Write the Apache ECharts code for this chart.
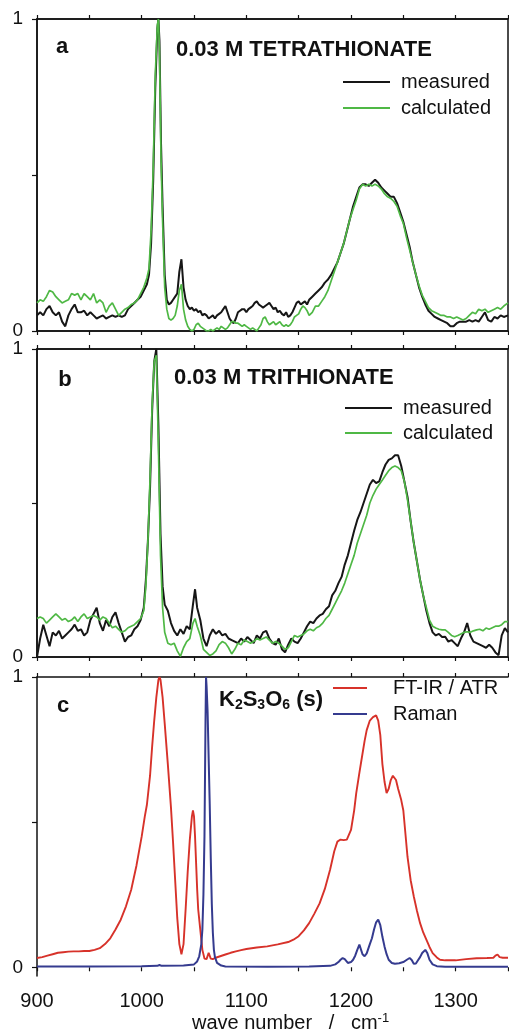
<!DOCTYPE html>
<html>
<head>
<meta charset="utf-8">
<script src="https://cdn.jsdelivr.net/npm/echarts@6/dist/echarts.min.js"></script>
<style>
html, body { margin: 0; padding: 0; background: #fff; }
#box { width: 509px; height: 1032px; }
</style>
</head>
<body>
<div id="box"></div>
<script>
// x ticks / labels shared by all three panels
var tickValues = [900, 950, 1000, 1050, 1100, 1150, 1200, 1250, 1300, 1350];
var labelValues = [900, 1000, 1100, 1200, 1300];

// panel a : 0.03 M tetrathionate
var aWave = [900,903,906,909,912,915,918,921,924,927,930,933,936,939,942,945,948,951,954,957,960,963,966,969,972,975,978,981,984,987,990,993,996,999,1002,1005,1007,1009,1011,1013,1015,1016,1017,1018.5,1020,1022,1024,1026,1028,1030,1032,1034,1036,1038,1040,1042,1044,1046,1048,1050,1052,1054,1056,1058,1060,1062,1064,1066,1068,1070,1072,1074,1076,1078,1080,1082,1084,1086,1088,1090,1092,1094,1096,1098,1100,1102,1104,1106,1108,1110,1112,1114,1116,1118,1120,1122,1124,1126,1128,1130,1132,1134,1136,1138,1140,1142,1144,1146,1148,1150,1152,1154,1156,1158,1160,1163,1166,1169,1172,1175,1178,1181,1184,1187,1190,1193,1196,1199,1202,1205,1208,1211,1214,1217,1220,1223,1226,1229,1232,1235,1238,1241,1244,1247,1250,1253,1256,1259,1262,1265,1268,1271,1274,1277,1280,1283,1286,1289,1292,1295,1298,1301,1304,1307,1310,1313,1316,1319,1322,1325,1328,1331,1334,1337,1340,1343,1346,1350];
var aMeasured = [0.05,0.06,0.05,0.07,0.08,0.06,0.05,0.06,0.03,0.015,0.05,0.07,0.085,0.06,0.06,0.065,0.05,0.06,0.05,0.04,0.045,0.05,0.04,0.045,0.05,0.045,0.05,0.045,0.05,0.07,0.08,0.09,0.1,0.11,0.13,0.15,0.18,0.28,0.48,0.78,0.97,1.0,0.93,0.6,0.4,0.18,0.1,0.085,0.09,0.1,0.11,0.12,0.19,0.23,0.14,0.1,0.08,0.07,0.075,0.065,0.07,0.06,0.065,0.05,0.055,0.05,0.04,0.045,0.05,0.04,0.05,0.055,0.06,0.07,0.08,0.06,0.04,0.03,0.025,0.04,0.06,0.065,0.07,0.07,0.06,0.07,0.075,0.08,0.09,0.095,0.085,0.08,0.075,0.08,0.085,0.09,0.08,0.07,0.075,0.06,0.065,0.055,0.05,0.06,0.045,0.05,0.06,0.075,0.09,0.095,0.085,0.09,0.095,0.085,0.1,0.11,0.12,0.13,0.14,0.155,0.165,0.18,0.2,0.22,0.25,0.28,0.32,0.36,0.4,0.43,0.46,0.47,0.47,0.465,0.475,0.485,0.475,0.46,0.45,0.44,0.43,0.43,0.41,0.38,0.35,0.31,0.27,0.22,0.18,0.14,0.11,0.085,0.065,0.055,0.045,0.04,0.035,0.03,0.025,0.015,0.015,0.025,0.03,0.03,0.03,0.035,0.03,0.035,0.03,0.045,0.06,0.035,0.03,0.045,0.04,0.05,0.045,0.05];
var aCalculated = [0.09,0.1,0.095,0.11,0.13,0.125,0.11,0.1,0.09,0.095,0.1,0.12,0.115,0.12,0.1,0.12,0.11,0.1,0.12,0.09,0.1,0.09,0.06,0.08,0.09,0.07,0.05,0.06,0.07,0.075,0.085,0.09,0.1,0.12,0.14,0.17,0.2,0.32,0.52,0.82,0.98,1.0,0.9,0.55,0.35,0.14,0.07,0.04,0.035,0.04,0.05,0.08,0.13,0.15,0.07,0.035,0.015,0.005,0,0.005,0.02,0.025,0.015,0.01,0.005,0,0,0.005,0,0.005,0.01,0.005,0.015,0.01,0.005,0.01,0.02,0.03,0.03,0.025,0.025,0.02,0.015,0.02,0.015,0.01,0.005,0.01,0.005,0,0.01,0.02,0.04,0.045,0.03,0.02,0.025,0.03,0.02,0.025,0.03,0.02,0.015,0.02,0.015,0.02,0.03,0.045,0.05,0.055,0.07,0.08,0.075,0.065,0.05,0.06,0.08,0.08,0.095,0.11,0.13,0.16,0.19,0.22,0.25,0.28,0.32,0.36,0.39,0.42,0.455,0.47,0.465,0.47,0.465,0.47,0.465,0.455,0.44,0.43,0.425,0.415,0.4,0.37,0.345,0.3,0.26,0.22,0.18,0.145,0.115,0.095,0.075,0.065,0.06,0.055,0.05,0.05,0.045,0.045,0.04,0.045,0.04,0.035,0.04,0.05,0.06,0.055,0.07,0.065,0.07,0.06,0.065,0.07,0.075,0.07,0.08,0.09];

// panel b : 0.03 M trithionate
var bWave = [900,903,906,909,912,915,918,921,924,927,930,933,936,939,942,945,948,951,954,957,960,963,966,969,972,975,978,981,984,987,990,993,996,999,1002,1004,1006,1008,1010,1012,1014,1016,1018,1020,1022,1025,1028,1031,1034,1037,1040,1043,1046,1049,1051,1053,1056,1059,1062,1065,1068,1071,1074,1077,1080,1083,1086,1089,1092,1095,1098,1101,1104,1107,1110,1113,1116,1119,1122,1125,1128,1131,1134,1137,1140,1143,1146,1149,1152,1155,1158,1161,1164,1167,1170,1173,1176,1179,1182,1185,1188,1191,1194,1197,1200,1203,1206,1209,1212,1215,1218,1221,1224,1227,1230,1233,1236,1239,1242,1245,1248,1251,1254,1257,1260,1263,1266,1269,1272,1275,1278,1281,1284,1287,1290,1293,1296,1299,1302,1305,1308,1311,1314,1317,1320,1323,1326,1329,1332,1335,1338,1341,1344,1347,1350];
var bMeasured = [0,0.06,0.105,0.07,0.035,0.08,0.07,0.085,0.06,0.07,0.08,0.09,0.105,0.085,0.09,0.07,0.08,0.12,0.14,0.16,0.11,0.085,0.12,0.1,0.13,0.145,0.11,0.08,0.05,0.065,0.07,0.09,0.1,0.12,0.16,0.25,0.38,0.55,0.8,0.96,1.0,0.75,0.4,0.23,0.17,0.15,0.11,0.085,0.07,0.09,0.075,0.1,0.09,0.17,0.22,0.16,0.12,0.06,0.035,0.07,0.09,0.075,0.085,0.07,0.075,0.06,0.055,0.05,0.045,0.06,0.05,0.065,0.055,0.045,0.07,0.06,0.08,0.085,0.06,0.045,0.04,0.06,0.025,0.015,0.04,0.06,0.05,0.045,0.06,0.08,0.1,0.115,0.11,0.125,0.135,0.14,0.155,0.165,0.2,0.215,0.24,0.26,0.3,0.33,0.37,0.41,0.445,0.47,0.5,0.53,0.56,0.575,0.565,0.57,0.6,0.625,0.64,0.645,0.655,0.655,0.62,0.57,0.52,0.44,0.37,0.31,0.25,0.2,0.15,0.11,0.08,0.07,0.075,0.065,0.066,0.05,0.055,0.045,0.035,0.06,0.08,0.11,0.07,0.05,0.045,0.04,0.035,0.03,0.04,0.03,0.015,0.006,0.07,0.094,0.08];
var bCalculated = [0.125,0.13,0.125,0.11,0.12,0.13,0.14,0.13,0.12,0.125,0.115,0.12,0.13,0.115,0.13,0.14,0.125,0.13,0.135,0.13,0.12,0.13,0.125,0.11,0.095,0.1,0.09,0.08,0.085,0.095,0.1,0.105,0.115,0.125,0.15,0.23,0.38,0.58,0.82,0.96,0.98,0.68,0.33,0.16,0.08,0.045,0.04,0.045,0.02,0.002,0.03,0.05,0.06,0.11,0.125,0.1,0.07,0.025,0.015,0.005,0.01,0.02,0.04,0.05,0.045,0.03,0.01,0.025,0.045,0.04,0.055,0.05,0.045,0.05,0.06,0.055,0.06,0.065,0.055,0.045,0.05,0.045,0.035,0.025,0.03,0.05,0.07,0.065,0.07,0.075,0.085,0.09,0.085,0.095,0.1,0.11,0.125,0.135,0.155,0.175,0.195,0.215,0.24,0.27,0.3,0.33,0.37,0.4,0.43,0.46,0.5,0.525,0.545,0.56,0.575,0.59,0.605,0.615,0.62,0.615,0.605,0.57,0.51,0.44,0.37,0.31,0.25,0.2,0.16,0.12,0.1,0.094,0.09,0.088,0.088,0.08,0.07,0.066,0.07,0.075,0.08,0.082,0.08,0.085,0.088,0.09,0.085,0.094,0.09,0.095,0.1,0.1,0.105,0.115,0.115];

// panel c : K2S3O6 (s), FT-IR / ATR and Raman
var irWave = [900,905,910,915,920,925,930,935,940,945,950,955,960,965,970,975,980,985,990,995,1000,1003,1005,1008,1010,1012,1014,1016,1017,1018,1020,1022,1025,1028,1030,1032,1034,1036,1038,1040,1042,1044,1046,1048,1049,1050,1051,1052,1053,1054,1056,1058,1060,1062,1064,1066,1068,1070,1075,1080,1085,1090,1095,1100,1110,1120,1130,1140,1145,1150,1155,1160,1165,1170,1175,1180,1184,1187,1190,1193,1196,1200,1203,1205,1208,1210,1213,1215,1218,1221,1224,1226,1228,1230,1232,1234,1236,1238,1240,1241,1243,1245,1248,1250,1252,1254,1257,1260,1263,1266,1269,1272,1275,1278,1282,1285,1290,1300,1310,1320,1330,1336,1338,1340,1342,1345,1350];
var irValue = [0.032,0.035,0.04,0.045,0.05,0.052,0.054,0.055,0.055,0.056,0.056,0.06,0.066,0.08,0.1,0.13,0.164,0.21,0.267,0.35,0.45,0.52,0.56,0.66,0.76,0.85,0.93,0.99,1.0,0.99,0.93,0.84,0.7,0.55,0.43,0.3,0.17,0.08,0.045,0.08,0.2,0.33,0.44,0.52,0.54,0.52,0.45,0.36,0.27,0.2,0.13,0.06,0.03,0.028,0.05,0.03,0.028,0.032,0.038,0.044,0.05,0.055,0.059,0.063,0.068,0.072,0.079,0.087,0.095,0.107,0.127,0.152,0.185,0.22,0.27,0.336,0.4,0.433,0.44,0.438,0.44,0.473,0.54,0.6,0.67,0.714,0.78,0.817,0.85,0.862,0.868,0.85,0.8,0.7,0.64,0.6,0.615,0.645,0.66,0.662,0.645,0.615,0.576,0.54,0.46,0.38,0.3,0.244,0.195,0.152,0.12,0.095,0.07,0.049,0.034,0.026,0.024,0.024,0.028,0.031,0.032,0.033,0.04,0.044,0.035,0.033,0.033];
var ramanWave = [900,950,1000,1015,1017,1019,1040,1050,1053,1055,1057,1058,1059,1060,1061,1061.5,1062,1063,1064,1065,1066,1067,1068,1069,1070,1072,1076,1080,1120,1160,1180,1185,1188,1190,1192,1194,1197,1200,1202,1204,1206,1208,1209,1211,1213,1215,1218,1220,1222,1224,1226,1228,1230,1232,1234,1236,1239,1242,1246,1250,1253,1256,1258,1260,1262,1264,1266,1268,1271,1273,1275,1278,1282,1290,1320,1350];
var ramanValue = [0.003,0.003,0.004,0.005,0.008,0.005,0.006,0.01,0.02,0.038,0.08,0.13,0.25,0.45,0.85,1.0,0.97,0.88,0.72,0.565,0.38,0.22,0.12,0.06,0.035,0.015,0.006,0.003,0.002,0.003,0.005,0.01,0.018,0.026,0.032,0.028,0.015,0.018,0.026,0.04,0.06,0.078,0.075,0.045,0.038,0.048,0.08,0.1,0.13,0.155,0.164,0.145,0.105,0.072,0.045,0.026,0.015,0.012,0.014,0.018,0.025,0.032,0.025,0.012,0.013,0.024,0.035,0.049,0.06,0.048,0.026,0.01,0.004,0.002,0.002,0.002];

var FONT = '"Liberation Sans", Arial, sans-serif';
var INK = '#111';

function pairs(xs, ys) {
	var out = [];
	for (var i = 0; i < xs.length; i++) {
		out.push([xs[i], ys[i]]);
	}
	return out;
}

var myChart = echarts.init(document.getElementById('box'));

var grids = [
	{left: 37, width: 471, top: 19, height: 312, show: true, borderColor: INK, borderWidth: 1.5},
	{left: 37, width: 471, top: 349, height: 308, show: true, borderColor: INK, borderWidth: 1.5},
	{left: 37, width: 471, top: 677, height: 299, show: false}
];

var xAxes = [];
var yAxes = [];
for (var g = 0; g < 3; g++) {
	// bottom axis
	xAxes.push({
		type: 'value', gridIndex: g, position: 'bottom', min: 900, max: 1350, interval: 50,
		axisLine: {show: g < 2, lineStyle: {color: INK, width: 1.5}},
		axisTick: {show: true, inside: false, length: 4, customValues: tickValues, lineStyle: {color: INK, width: 1.2}},
		axisLabel: {
			show: g === 2, customValues: labelValues, margin: 15, color: INK, fontSize: 20, fontFamily: FONT,
			formatter: function (v) { return String(v); }
		},
		splitLine: {show: false}
	});
	// top axis
	xAxes.push({
		type: 'value', gridIndex: g, position: 'top', min: 900, max: 1350, interval: 50,
		axisLine: {show: true, lineStyle: {color: INK, width: 1.5}},
		axisTick: {show: true, inside: false, length: 4, customValues: tickValues, lineStyle: {color: INK, width: 1.2}},
		axisLabel: {show: false},
		splitLine: {show: false}
	});
	yAxes.push({
		type: 'value', gridIndex: g, min: g === 2 ? -0.03 : 0, max: 1,
		axisLine: {show: true, lineStyle: {color: INK, width: 1.5}},
		axisTick: {show: true, inside: false, length: 5, customValues: [0, 0.5, 1], lineStyle: {color: INK, width: 1.2}},
		axisLabel: {show: true, customValues: [0, 1], margin: 14, color: INK, fontSize: 19, fontFamily: FONT},
		splitLine: {show: false}
	});
}

function line(name, xIdx, yIdx, xs, ys, color, width) {
	return {
		name: name, type: 'line', xAxisIndex: xIdx, yAxisIndex: yIdx,
		data: pairs(xs, ys), showSymbol: false, symbol: 'none', clip: true,
		lineStyle: {color: color, width: width}, itemStyle: {color: color}
	};
}

var legendText = {color: INK, fontSize: 20, fontFamily: FONT, lineHeight: 20};

var option = {
	animation: false,
	backgroundColor: '#fff',
	grid: grids,
	xAxis: xAxes,
	yAxis: yAxes,
	legend: [
		{left: 343, top: 72, orient: 'vertical', padding: 0, itemGap: 6, icon: 'rect', itemWidth: 47, itemHeight: 2,
			textStyle: Object.assign({padding: [0, 0, 0, 6]}, legendText), data: ['measured', 'calculated']},
		{left: 345, top: 398, orient: 'vertical', padding: 0, itemGap: 5, icon: 'rect', itemWidth: 47, itemHeight: 2,
			textStyle: Object.assign({padding: [0, 0, 0, 6]}, legendText), data: ['measured', 'calculated']},
		{left: 333, top: 678, orient: 'vertical', padding: 0, itemGap: 6, icon: 'rect', itemWidth: 34, itemHeight: 2,
			textStyle: Object.assign({padding: [0, 0, 0, 21]}, legendText), data: ['FT-IR / ATR', 'Raman']}
	],
	series: [
		line('measured', 0, 0, aWave, aMeasured, '#161616', 2),
		line('calculated', 0, 0, aWave, aCalculated, '#4fb845', 1.7),
		line('measured', 2, 1, bWave, bMeasured, '#161616', 2),
		line('calculated', 2, 1, bWave, bCalculated, '#4fb845', 1.7),
		line('FT-IR / ATR', 4, 2, irWave, irValue, '#d7322a', 1.9),
		line('Raman', 4, 2, ramanWave, ramanValue, '#353b8f', 2)
	],
	graphic: [
		{type: 'text', style: {text: 'a', x: 62, y: 47, textAlign: 'center', textVerticalAlign: 'middle', font: 'bold 22px ' + FONT, fill: INK}},
		{type: 'text', style: {text: '0.03 M TETRATHIONATE', x: 176, y: 50, textAlign: 'left', textVerticalAlign: 'middle', font: 'bold 22px ' + FONT, fill: INK}},
		{type: 'text', style: {text: 'b', x: 65, y: 380, textAlign: 'center', textVerticalAlign: 'middle', font: 'bold 22px ' + FONT, fill: INK}},
		{type: 'text', style: {text: '0.03 M TRITHIONATE', x: 174, y: 378, textAlign: 'left', textVerticalAlign: 'middle', font: 'bold 22px ' + FONT, fill: INK}},
		{type: 'text', style: {text: 'c', x: 63, y: 706, textAlign: 'center', textVerticalAlign: 'middle', font: 'bold 22px ' + FONT, fill: INK}},
		{type: 'text', style: {
			text: '{m|K}{s|2}{m|S}{s|3}{m|O}{s|6}{m| (s)}', x: 219, y: 700, textAlign: 'left', textVerticalAlign: 'middle',
			fill: INK,
			rich: {
				m: {fontFamily: FONT, fontWeight: 'bold', fontSize: 22, lineHeight: 24, fill: INK},
				s: {fontFamily: FONT, fontWeight: 'bold', fontSize: 14, lineHeight: 4, verticalAlign: 'bottom', fill: INK}
			}
		}},
		{type: 'text', style: {
			text: '{m|wave number   /   cm}{u|-1}', x: 192, y: 1023, textAlign: 'left', textVerticalAlign: 'middle',
			fill: INK,
			rich: {
				m: {fontFamily: FONT, fontSize: 20, lineHeight: 22, fill: INK},
				u: {fontFamily: FONT, fontSize: 13, lineHeight: 10, verticalAlign: 'top', fill: INK}
			}
		}}
	]
};

myChart.setOption(option);
</script>
</body>
</html>
